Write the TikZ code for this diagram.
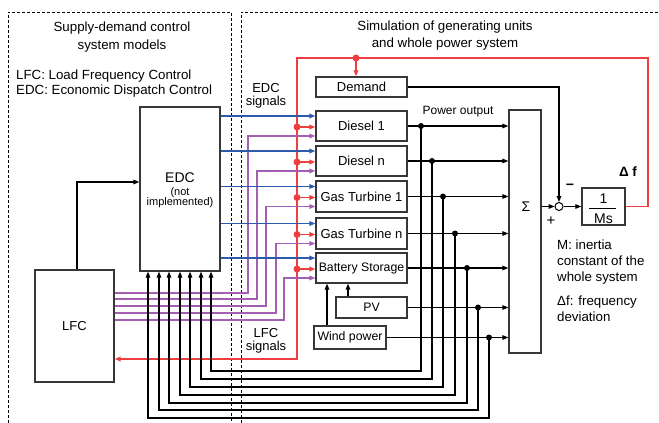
\documentclass[tikz,border=0pt]{standalone}
\usepackage{fontspec}
\setmainfont{Liberation Sans}
\usetikzlibrary{arrows.meta,calc}
\definecolor{redc}{RGB}{238,62,62}
\definecolor{bluec}{RGB}{45,90,170}
\definecolor{purc}{RGB}{165,95,178}
\definecolor{boxgray}{RGB}{55,55,55}
\newcommand\myfs[2]{\fontsize{#1}{#2}\selectfont}
\begin{document}
\begin{tikzpicture}[x=1pt,y=-1pt,
  wire/.style={line width=1.1pt, draw=black},
  arr/.style={-{Triangle[length=6pt,width=4.6pt]}},
  ctrl/.style={line width=1.8pt, draw=redc},
  edcs/.style={line width=1.3pt, draw=bluec},
  lfcs/.style={line width=1.3pt, draw=purc},
  dashbox/.style={line width=0.9pt, dash pattern=on 3pt off 2pt},
  box/.style={draw=boxgray, line width=1.3pt, fill=white, inner sep=0pt, font=\myfs{13}{15}},
  txt/.style={inner sep=0pt, font=\myfs{13.3}{16}}]
\useasboundingbox (0,0) rectangle (659,423);

% dashed frames
\draw[dashbox] (8,423) -- (8,12) -- (231,12) -- (231,423);
\draw[dashbox] (241,423) -- (241,12) -- (659,12);

% titles
\node[txt, align=center, font=\myfs{13.3}{18}] (ttl) at (122,37) {Supply-demand control\\system models};
\node[txt, align=left, anchor=west, font=\myfs{13.3}{15}] (abbr) at (16,83.5) {LFC: Load Frequency Control\\EDC: Economic Dispatch Control};
\node[txt, align=center, font=\myfs{13.3}{17}] (ttr) at (445,35.5) {Simulation of generating units\\and whole power system};

% boxes
\node[box, minimum width=80pt, minimum height=164pt] (edc) at (180,189) {};
\node[txt, font=\myfs{14}{16}] (edct) at (180,177.5) {EDC};
\node[txt, font=\myfs{11}{11}] (edcn1) at (180,192.5) {(not};
\node[txt, font=\myfs{11}{11}] (edcn2) at (180,202.5) {implemented)};
\node[box, minimum width=79pt, minimum height=112pt] (lfc) at (74.5,326) {LFC};
\node[box, minimum width=91pt, minimum height=20pt] (dem) at (361.5,87) {Demand};
\node[box, minimum width=91pt, minimum height=30pt] (d1) at (361.5,126) {Diesel 1};
\node[box, minimum width=91pt, minimum height=30pt] (dn) at (361.5,161) {Diesel n};
\node[box, minimum width=91pt, minimum height=31pt] (g1) at (361.5,196.5) {Gas Turbine 1};
\node[box, minimum width=91pt, minimum height=31pt] (gn) at (361.5,233.5) {Gas Turbine n};
\node[box, minimum width=91pt, minimum height=30pt, font=\myfs{12.3}{14}] (bat) at (361.5,268) {Battery Storage};
\node[box, minimum width=71pt, minimum height=21pt, font=\myfs{12.3}{14}] (pv) at (371.5,307.5) {PV};
\node[box, minimum width=72pt, minimum height=23pt, font=\myfs{12.3}{14}] (wind) at (350,337.5) {Wind power};
\node[box, minimum width=32pt, minimum height=243pt] (sig) at (525,231.5) {};
\node[txt, font=\myfs{14}{16}] (sigma) at (526,207) {Σ};
\node[circle, draw=black, line width=1pt, minimum size=8pt, inner sep=0pt, fill=white] (sum) at (559,206.5) {};
\node[box, minimum width=43pt, minimum height=37pt] (ms) at (603.5,206.5) {};
\node[txt, font=\myfs{14}{16}] (msn) at (603.5,199) {1};
\node[txt, font=\myfs{14}{16}] (msd) at (603.5,218.5) {Ms};
\draw[line width=1pt] (589,208.5) -- (616,208.5);

% labels
\node[txt, align=center, font=\myfs{13}{13}] (edcl) at (266,95.5) {EDC\\signals};
\node[txt, align=center, font=\myfs{13}{13}] (lfcl) at (266,340.5) {LFC\\signals};
\node[txt, font=\myfs{12}{14}] (pout) at (458,112) {Power output};
\node[txt, font=\bfseries\myfs{13.5}{15}] (df) at (628,172) {Δ f};
\node[txt, font=\bfseries\myfs{14}{15}] (minus) at (570,187) {−};
\node[txt, font=\myfs{15}{15}] (plus) at (551,221) {+};
\node[txt, align=left, anchor=west, font=\myfs{13.3}{16}] (mleg) at (557,262) {M: inertia\\constant of the\\whole system};
\node[txt, align=left, anchor=west, font=\myfs{13.3}{16}] (dleg) at (557,309) {Δf: frequency\\deviation};

% coordinates
\coordinate (rtr) at (648,58);
\coordinate (rtop) at (297,58);
\coordinate (rbot) at (297,359);
\coordinate (rdem) at (356,58);
\coordinate (lk) at (77,182);
\coordinate (pvx) at (348,0);
\coordinate (wdx) at (327,0);

% red frequency feedback
\draw[ctrl,arr] (ms.east) -| (rtr) -- (rtop) -- (rbot) -- (lfc.east |- rbot);
\draw[ctrl,arr] (rdem) -- (rdem |- dem.north);
\fill[redc] (rdem) circle (3.5pt);

% demand to summing point
\draw[wire,arr] (dem.east) -| (sum.north);
\draw[wire,arr] (sig.east |- sum) -- (sum.west);
\draw[wire,arr] (sum.east) -- (ms.west |- sum);

% LFC to EDC
\draw[wire,arr] (lk |- lfc.north) |- (edc.west |- lk);

% PV and wind to battery
\draw[wire,arr] (pvx |- pv.north) -- (pvx |- bat.south);
\draw[wire,arr] (wdx |- wind.north) -- (wdx |- bat.south);

% control signals
\foreach \n/\px/\py in {d1/248/293, dn/257/299, g1/266/306, gn/276/313, bat/284/320} {
  \coordinate (b\n) at ([yshift=10pt]\n.west);
  \coordinate (r\n) at ([yshift=-1pt]\n.west);
  \coordinate (q\n) at ([yshift=-10pt]\n.west);
  \coordinate (pc\n) at (\px,\py);
  \draw[edcs,arr] (edc.east |- b\n) -- (b\n);
  \draw[lfcs,arr] (lfc.east |- pc\n) -- (pc\n) |- (q\n);
  \draw[ctrl,arr] (rbot |- r\n) -- (r\n);
  \fill[redc] (rbot |- r\n) circle (3.5pt);
}

% power outputs and feedback to EDC
\foreach \n/\tx/\fx/\fy in {d1/421/211/371, dn/432/201/379, g1/443/190/387, gn/455/180/395, bat/467/169/403, pv/478/159/410, wind/489/148/418} {
  \coordinate (tx\n) at (\tx,0);
  \coordinate (fb\n) at (\fx,\fy);
  \draw[wire,arr] (\n.east) -- (\n.east -| sig.west);
  \draw[wire,arr] (\n.east -| tx\n) |- (fb\n) -- (fb\n |- edc.south);
  \fill (\n.east -| tx\n) circle (3pt);
}
\end{tikzpicture}
\end{document}
